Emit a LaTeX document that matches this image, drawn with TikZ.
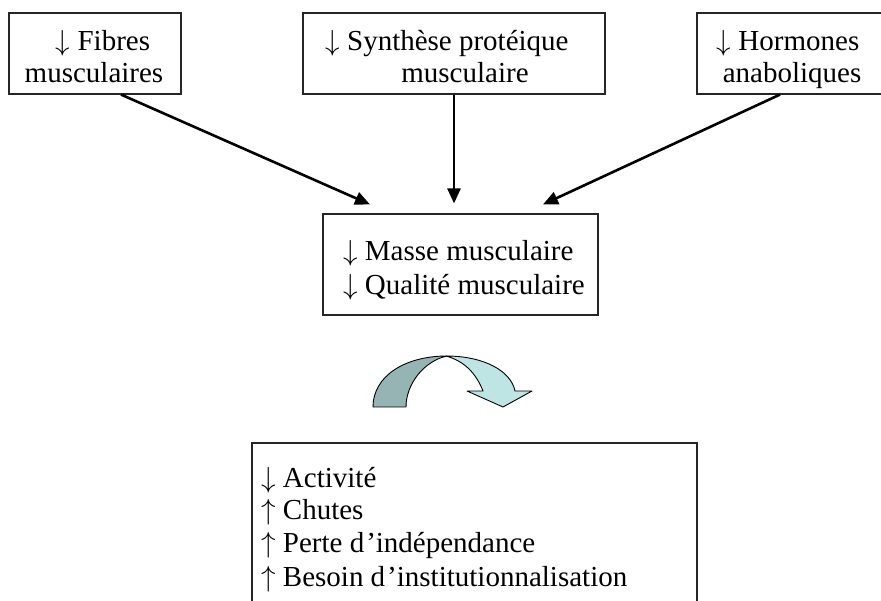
\RequirePackage{fix-cm}
\documentclass[tikz,border=0pt]{standalone}
\usepackage{fontspec}
\setmainfont{Liberation Serif}
\usetikzlibrary{arrows.meta,calc}
\definecolor{darkteal}{RGB}{150,180,180}
\definecolor{lightteal}{RGB}{190,228,228}
\newcommand{\dn}{$\downarrow$}
\newcommand{\up}{$\uparrow$}
\tikzset{
  box/.style={draw=black!85, line width=1.1pt, inner sep=0pt},
  txt/.style={font=\fontsize{29}{32}\selectfont, inner sep=0pt},
  arr/.style={line width=2.6pt, -{Triangle[length=15pt,width=13pt]}},
  curv/.style={draw=black, line width=0.9pt, line join=round}
}
\begin{document}
\begin{tikzpicture}[x=1pt,y=-1pt]
\useasboundingbox (0,0) rectangle (881,601);
\clip (0,0) rectangle (881,601);
% top boxes
\node[box, minimum width=172pt, minimum height=81pt] (b1) at (95,53.5) {};
\node[box, minimum width=302pt, minimum height=81pt] (b2) at (454,53.5) {};
\node[box, minimum width=186pt, minimum height=81pt] (b3) at (790,53.5) {};
\node[txt, anchor=base] (b1a) at (103,51) {\dn\ Fibres};
\node[txt, anchor=base] (b1b) at (94,83) {musculaires};
\node[txt, anchor=base] (b2a) at (447,51) {\dn\ Synthèse protéique};
\node[txt, anchor=base] (b2b) at (465,83) {musculaire};
\node[txt, anchor=base] (b3a) at (788,51) {\dn\ Hormones};
\node[txt, anchor=base] (b3b) at (792,83) {anaboliques};
% middle box
\node[box, minimum width=275pt, minimum height=101pt] (mid) at (460.5,264.5) {};
\node[txt, anchor=base west] (m1) at (343,261) {\dn\ Masse musculaire};
\node[txt, anchor=base west] (m2) at (343,295) {\dn\ Qualité musculaire};
% connectors
\coordinate (t1) at ($(mid.north)+(-90.5,-9)$);
\coordinate (t2) at ($(mid.north)+(-6.5,-10)$);
\coordinate (t3) at ($(mid.north)+(82.5,-9)$);
\draw[arr] ([xshift=26pt]b1.south) -- (t1);
\draw[arr] (b2.south) -- (t2);
\draw[arr] ([xshift=-10pt]b3.south) -- (t3);
% curved arrow
\draw[curv, fill=darkteal] (373,407) .. controls (373,376) and (405,356) .. (447,356)
  .. controls (424,361) and (406,384) .. (406,407) -- cycle;
\draw[curv, fill=lightteal] (446,356) .. controls (484,356) and (511,371) .. (515,391)
  -- (532,391) -- (503,407) -- (467,391) -- (483,391)
  .. controls (476,373) and (464,361) .. (446,356) -- cycle;
% bottom box
\node[box, minimum width=445pt, minimum height=200pt] (bot) at (474.5,543) {};
\node[txt, anchor=base west] (r1) at (261,487) {\dn\ Activité};
\node[txt, anchor=base west] (r2) at (261,519) {\up\ Chutes};
\node[txt, anchor=base west] (r3) at (261,552) {\up\ Perte d\kern2pt’indépendance};
\node[txt, anchor=base west] (r4) at (261,586) {\up\ Besoin d\kern2pt’institutionnalisation};
\end{tikzpicture}
\end{document}
